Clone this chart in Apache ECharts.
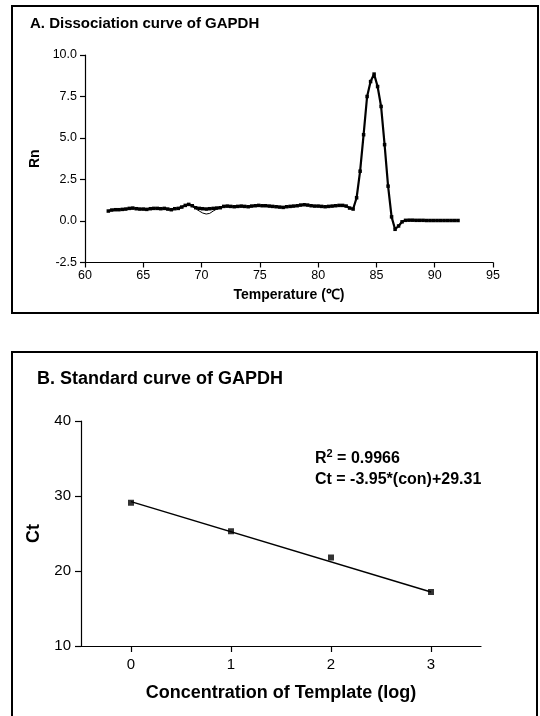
<!DOCTYPE html>
<html>
<head>
<meta charset="utf-8">
<script src="https://cdn.jsdelivr.net/npm/echarts@6/dist/echarts.min.js"></script>
<style>
html,body{margin:0;padding:0;background:#fff;}
#c{width:540px;height:716px;}
</style>
</head>
<body>
<div id="c"></div>
<script>
// ---- Panel A: dissociation curve ----
const tempA = [62.0,62.3,62.6,62.9,63.2,63.5,63.8,64.1,64.4,64.7,65.0,65.3,65.6,65.9,66.2,66.5,66.8,67.1,67.4,67.7,
  68.0,68.3,68.6,68.9,69.2,69.5,69.8,70.1,70.4,70.7,71.0,71.3,71.6,71.9,72.2,72.5,72.8,73.1,73.4,73.7,
  74.0,74.3,74.6,74.9,75.2,75.5,75.8,76.1,76.4,76.7,77.0,77.3,77.6,77.9,78.2,78.5,78.8,79.1,79.4,79.7,
  80.0,80.3,80.6,80.9,81.2,81.5,81.8,82.1,82.4,82.7,83.0,83.3,83.6,83.9,84.2,84.5,84.8,85.1,85.4,85.7,
  86.0,86.3,86.6,86.9,87.2,87.5,87.8,88.1,88.4,88.7,89.0,89.3,89.6,89.9,90.2,90.5,90.8,91.1,91.4,91.7,92.0];
const rnA = [0.60,0.66,0.68,0.68,0.70,0.72,0.76,0.78,0.74,0.72,0.72,0.70,0.74,0.76,0.76,0.74,0.76,0.72,0.68,0.74,
  0.76,0.84,0.94,1.00,0.92,0.80,0.76,0.74,0.72,0.74,0.76,0.78,0.80,0.88,0.90,0.88,0.86,0.88,0.90,0.88,
  0.86,0.90,0.92,0.94,0.92,0.92,0.90,0.88,0.86,0.84,0.82,0.86,0.88,0.90,0.92,0.96,0.98,0.96,0.92,0.90,
  0.90,0.88,0.86,0.88,0.90,0.92,0.94,0.94,0.90,0.78,0.72,1.40,3.00,5.20,7.50,8.40,8.85,8.10,6.90,4.60,
  2.10,0.25,-0.50,-0.30,-0.05,0.04,0.05,0.05,0.04,0.04,0.04,0.03,0.03,0.03,0.03,0.03,0.03,0.03,0.03,0.03,0.03];
// second replicate trace, visible where it departs from the first
const tempA2 = [68.9,69.2,69.5,69.8,70.1,70.4,70.7,71.0,71.3,71.6,71.9];
const rnA2 = [1.00,0.90,0.74,0.60,0.48,0.42,0.46,0.60,0.72,0.80,0.88];
const xTicksA = {min:60, max:95, interval:5};
const yTicksA = {min:-2.5, max:10, interval:2.5};

// ---- Panel B: standard curve ----
const concB = [0,1,2,3];
const ctB = [29.1,25.3,21.8,17.2];
const fitX = [0,3];
const fitY = [29.25,17.2];
const xTickValuesB = [0,1,2,3];
const yTicksB = {min:10, max:40, interval:10};

const FONT = 'Liberation Sans, Arial, sans-serif';
const zip = (a,b) => a.map((v,i)=>[v,b[i]]);

const chart = echarts.init(document.getElementById('c'), null, {renderer:'canvas'});
const axisCommon = {
  axisLine:{show:true, onZero:false, lineStyle:{color:'#000', width:1.2}},
  axisTick:{show:true, inside:false, length:5, lineStyle:{color:'#000', width:1.2}},
  splitLine:{show:false},
  axisLabel:{color:'#000', fontFamily:FONT}
};
chart.setOption({
  backgroundColor:'#fff',
  animation:false,
  graphic:[
    {type:'rect', shape:{x:12,y:6,width:526,height:307}, style:{fill:'none', stroke:'#000', lineWidth:2}},
    {type:'rect', shape:{x:12,y:352,width:525,height:380}, style:{fill:'none', stroke:'#000', lineWidth:2}},
    {type:'text', left:30, top:16, style:{text:'A. Dissociation curve of GAPDH', font:'bold 15px '+FONT, fill:'#000'}},
    {type:'text', left:37, top:370, style:{text:'B. Standard curve of GAPDH', font:'bold 18px '+FONT, fill:'#000'}},
    {type:'text', left:315, top:448, style:{
      text:'R{sup|2} = 0.9966\nCt = -3.95*(con)+29.31',
      font:'bold 16px '+FONT, fill:'#000', lineHeight:21,
      rich:{sup:{font:'bold 11px '+FONT, fill:'#000', verticalAlign:'top', padding:[0,0,8,0]}}
    }}
  ],
  grid:[
    {left:85, right:47, top:55, bottom:453.5, containLabel:false},
    {left:81, right:59, top:421, bottom:70, containLabel:false}
  ],
  xAxis:[
    Object.assign({}, axisCommon, {gridIndex:0, type:'value', min:xTicksA.min, max:xTicksA.max, interval:xTicksA.interval,
      name:'Temperature (℃)', nameLocation:'middle', nameGap:26,
      nameTextStyle:{fontFamily:FONT, fontWeight:'bold', fontSize:14, color:'#000'},
      axisLabel:{color:'#000', fontFamily:FONT, fontSize:12.5, margin:7}}),
    Object.assign({}, axisCommon, {gridIndex:1, type:'value', min:-0.5, max:3.5,
      name:'Concentration of Template (log)', nameLocation:'middle', nameGap:38,
      nameTextStyle:{fontFamily:FONT, fontWeight:'bold', fontSize:18, color:'#000'},
      axisTick:{show:true, length:6, customValues:xTickValuesB, lineStyle:{color:'#000', width:1.2}},
      axisLabel:{color:'#000', fontFamily:FONT, fontSize:15, margin:11, customValues:xTickValuesB}})
  ],
  yAxis:[
    Object.assign({}, axisCommon, {gridIndex:0, type:'value', min:yTicksA.min, max:yTicksA.max, interval:yTicksA.interval,
      name:'Rn', nameLocation:'middle', nameGap:43, nameRotate:90,
      nameTextStyle:{fontFamily:FONT, fontWeight:'bold', fontSize:14, color:'#000'},
      axisLabel:{color:'#000', fontFamily:FONT, fontSize:12.5, margin:8, formatter:v=>v.toFixed(1)}}),
    Object.assign({}, axisCommon, {gridIndex:1, type:'value', min:yTicksB.min, max:yTicksB.max, interval:yTicksB.interval,
      name:'Ct', nameLocation:'middle', nameGap:33, nameRotate:90,
      nameTextStyle:{fontFamily:FONT, fontWeight:'bold', fontSize:18, color:'#000'},
      axisTick:{show:true, length:6, lineStyle:{color:'#000', width:1.2}},
      axisLabel:{color:'#000', fontFamily:FONT, fontSize:15, margin:10}})
  ],
  series:[
    {type:'line', xAxisIndex:0, yAxisIndex:0, data:zip(tempA, rnA), symbol:'rect', symbolSize:3.5, showSymbol:true,
      lineStyle:{color:'#000', width:2.2}, itemStyle:{color:'#000'}},
    {type:'line', xAxisIndex:0, yAxisIndex:0, data:zip(tempA2, rnA2), symbol:'none',
      lineStyle:{color:'#000', width:1}},
    {type:'line', xAxisIndex:1, yAxisIndex:1, data:zip(fitX, fitY), symbol:'none',
      lineStyle:{color:'#000', width:1.5}},
    {type:'scatter', xAxisIndex:1, yAxisIndex:1, data:zip(concB, ctB), symbol:'rect', symbolSize:6,
      itemStyle:{color:'#000'}}
  ]
});
</script>
</body>
</html>
